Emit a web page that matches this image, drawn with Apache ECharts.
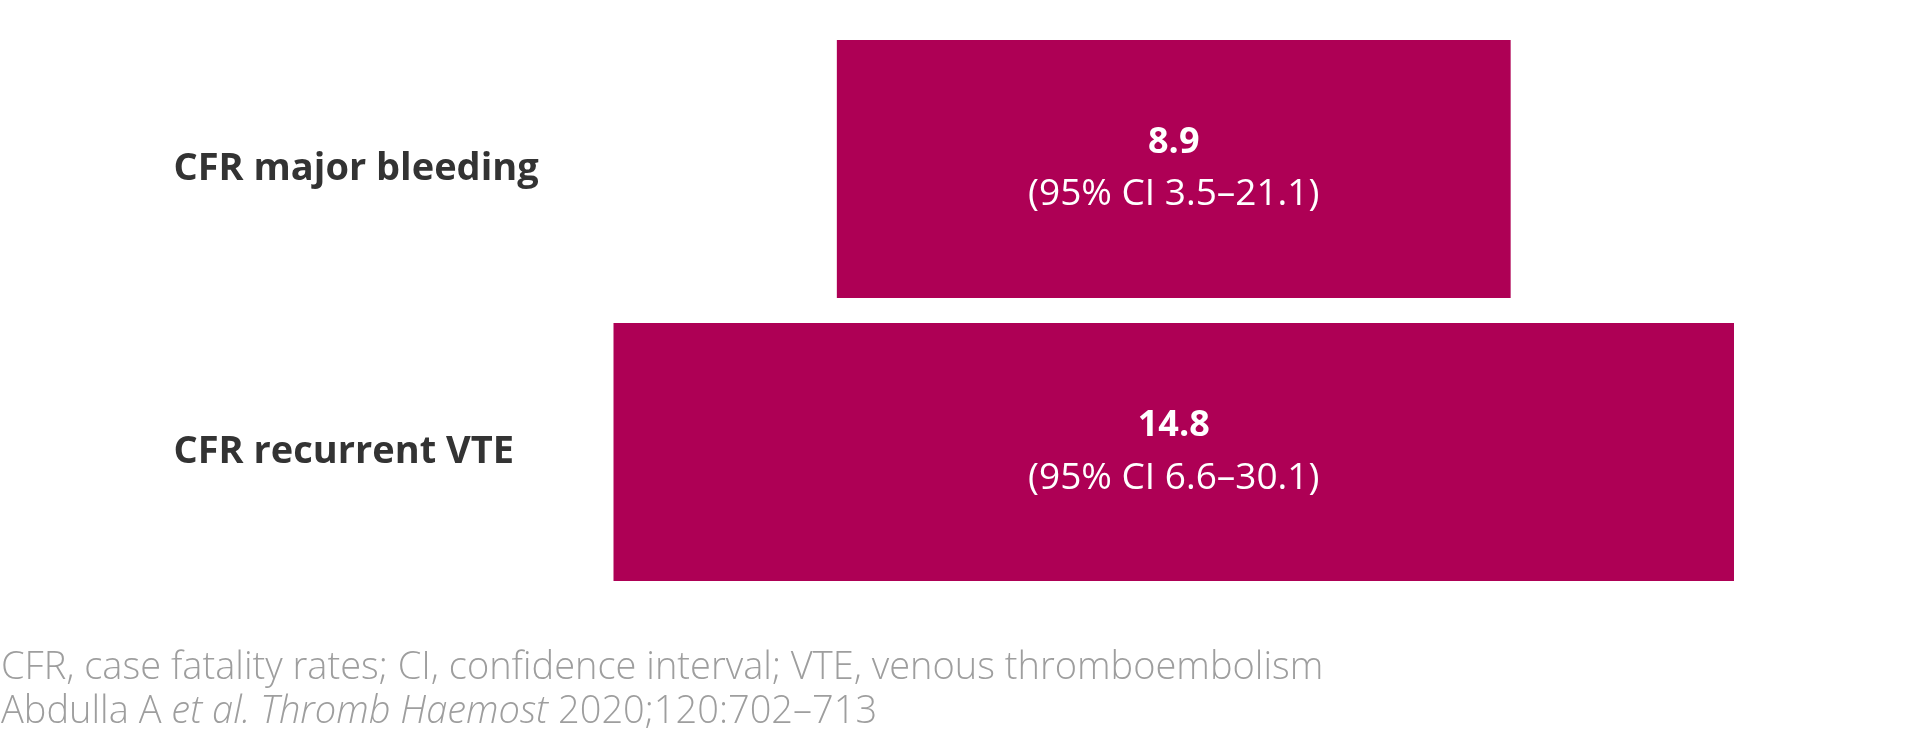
<!DOCTYPE html>
<html>
<head>
<meta charset="utf-8">
<script src="https://cdn.jsdelivr.net/npm/echarts@6/dist/echarts.min.js"></script>
<style>html,body{margin:0;padding:0;background:#fff;}#c{width:1920px;height:733px;}</style>
</head>
<body>
<div id="c"></div>
<script>
const categories = ['CFR major bleeding', 'CFR recurrent VTE'];
const values = [8.9, 14.8];
const ciLow = [3.5, 6.6];
const ciHigh = [21.1, 30.1];
const footnoteLines = [
  'CFR, case fatality rates; CI, confidence interval; VTE, venous thromboembolism',
  'Abdulla A {i|et al. Thromb Haemost} 2020;120:702–713'
];

const maxV = Math.max(...values);
const offsets = values.map(v => (maxV - v) / 2);
const FONT = '"Open Sans", "Noto Sans", sans-serif';

const chart = echarts.init(document.getElementById('c'));
chart.setOption({
  animation: false,
  backgroundColor: '#ffffff',
  title: {
    left: 1,
    top: 646,
    padding: 0,
    text: footnoteLines.join('\n'),
    textStyle: {
      fontFamily: FONT,
      fontWeight: 300,
      fontSize: 38,
      lineHeight: 44,
      color: '#9e9e9e',
      rich: {
        i: { fontFamily: FONT, fontWeight: 300, fontStyle: 'italic', fontSize: 38, lineHeight: 44, color: '#9e9e9e' }
      }
    }
  },
  grid: { left: 613.5, right: 186, top: 27.4, bottom: 139.4, containLabel: false },
  xAxis: { type: 'value', min: 0, max: maxV, show: false },
  yAxis: {
    type: 'category',
    data: categories,
    inverse: true,
    axisLine: { show: false },
    axisTick: { show: false },
    axisLabel: {
      align: 'left',
      margin: 440,
      fontFamily: FONT,
      fontWeight: 'bold',
      fontSize: 38,
      color: '#333333'
    }
  },
  series: [
    {
      type: 'bar',
      stack: 's',
      data: offsets,
      barWidth: 258,
      itemStyle: { color: 'transparent' },
      silent: true
    },
    {
      type: 'bar',
      stack: 's',
      data: values,
      barWidth: 258,
      itemStyle: { color: '#ae0055' },
      label: {
        show: true,
        position: 'inside',
        formatter: p => '{b|' + p.value + '}\n{n|(95% CI ' + ciLow[p.dataIndex] + '–' + ciHigh[p.dataIndex] + ')}',
        rich: {
          b: { fontFamily: FONT, fontWeight: 'bold', fontSize: 36, lineHeight: 52, color: '#ffffff', align: 'center' },
          n: { fontFamily: FONT, fontWeight: 'normal', fontSize: 37, lineHeight: 52, color: '#ffffff', align: 'center' }
        }
      }
    }
  ]
});
</script>
</body>
</html>
